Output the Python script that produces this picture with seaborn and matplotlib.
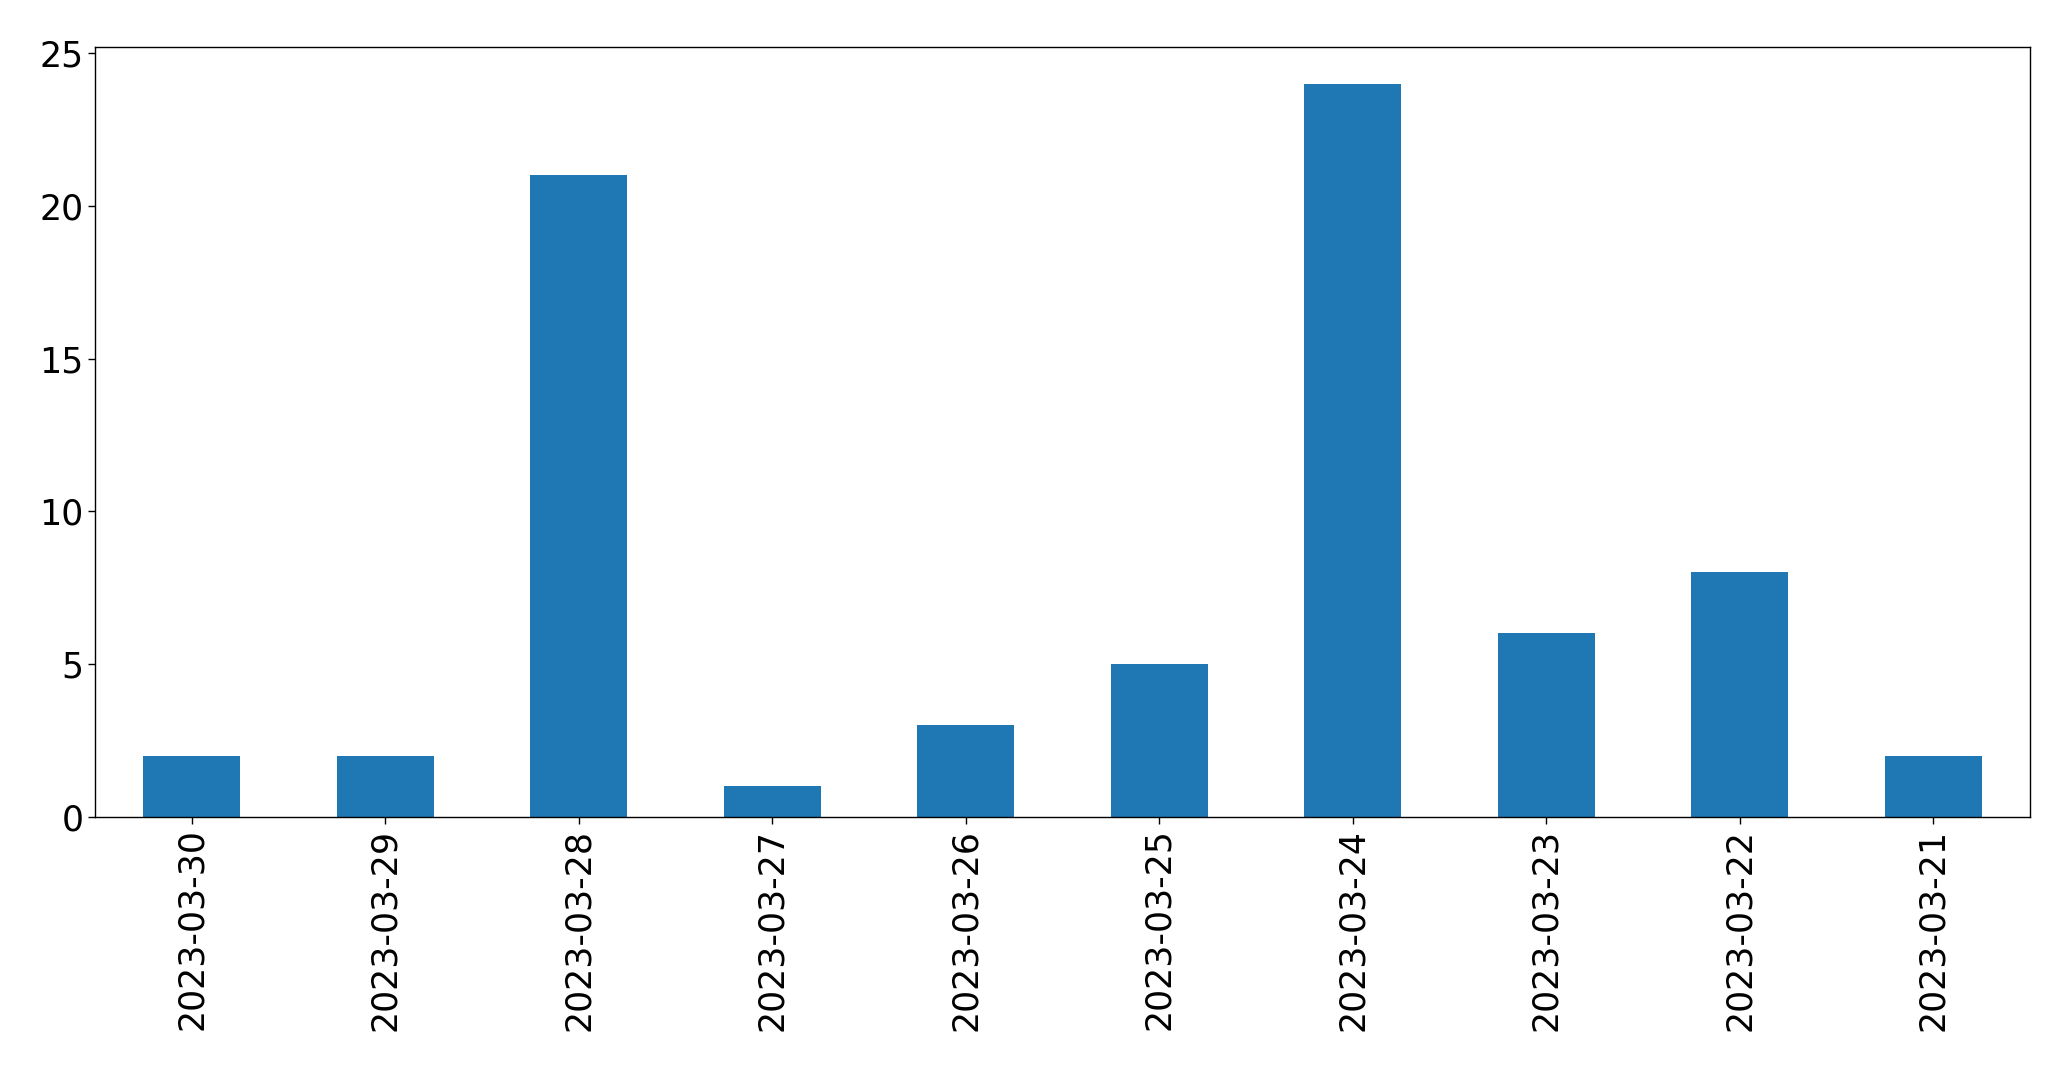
import pandas as pd
import matplotlib
matplotlib.use('Agg')
import matplotlib.pyplot as plt
import seaborn as sns

sns.set_style('ticks')
plt.rcParams['font.family'] = ['DejaVu Sans']
plt.rcParams['text.color'] = 'black'
plt.rcParams['xtick.color'] = 'black'
plt.rcParams['ytick.color'] = 'black'
plt.rcParams['axes.edgecolor'] = 'black'

# Data
dates = ['2023-03-30', '2023-03-29', '2023-03-28', '2023-03-27', '2023-03-26',
         '2023-03-25', '2023-03-24', '2023-03-23', '2023-03-22', '2023-03-21']
counts = [2, 2, 21, 1, 3, 5, 24, 6, 8, 2]

df = pd.DataFrame({'date': dates, 'count': counts})

fig, ax = plt.subplots(figsize=(20.71, 10.69), dpi=100)
sns.barplot(data=df, x='date', y='count', order=dates, color='#1f77b4',
            saturation=1, width=0.5, linewidth=0, edgecolor='none', ax=ax)

ax.set_xlim(-0.5, len(dates) - 0.5)
ax.set_ylim(0, max(counts) * 1.05)
ax.set_xlabel('')
ax.set_ylabel('')
ax.tick_params(axis='both', labelsize=25, colors='black', width=1, length=5)
ax.tick_params(axis='x', rotation=90)
for spine in ax.spines.values():
    spine.set_visible(True)
    spine.set_color('black')
    spine.set_linewidth(1.0)

fig.subplots_adjust(left=0.0459, right=0.9802, top=0.956, bottom=0.236)
fig.savefig('out.png', dpi=100)
